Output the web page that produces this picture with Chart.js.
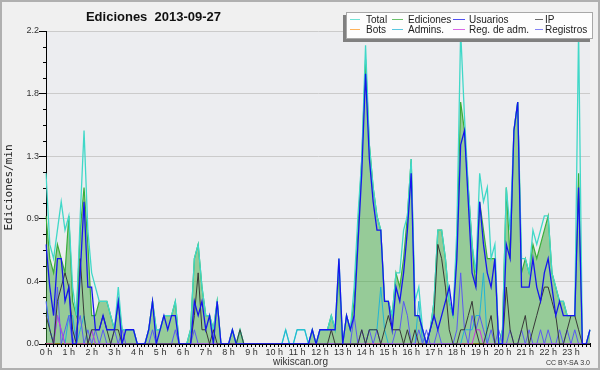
<!DOCTYPE html>
<html>
<head>
<meta charset="utf-8">
<script src="https://cdn.jsdelivr.net/npm/chart.js@4.4.0/dist/chart.umd.min.js"></script>
<style>
html, body { margin: 0; padding: 0; background: #f0f0f0; }
</style>
</head>
<body>
<canvas id="grafico" width="600" height="370"></canvas>
<script>
// hour tick labels, one every 6 slots of 10 minutes
const horas = ['0 h', '1 h', '2 h', '3 h', '4 h', '5 h', '6 h', '7 h', '8 h', '9 h', '10 h', '11 h',
  '12 h', '13 h', '14 h', '15 h', '16 h', '17 h', '18 h', '19 h', '20 h', '21 h', '22 h', '23 h'];

// 10-minute slots
const franjas = [];
horas.forEach((h, i) => {
  for (let m = 0; m < 60; m += 10) franjas.push(i + ':' + String(m).padStart(2, '0'));
});

// edits per minute, one row per hour
const total = [
  1.2, 0.7, 0.6, 0.8, 1.0, 0.8,
  0.9, 0.4, 0.2, 0.9, 1.5, 0.8,
  0.5, 0.4, 0.3, 0.3, 0.3, 0.2,
  0.1, 0.4, 0.1, 0.1, 0.1, 0.1,
  0, 0, 0, 0.1, 0.3, 0.1,
  0.1, 0.2, 0.2, 0.2, 0.3, 0,
  0, 0, 0.1, 0.6, 0.7, 0.4,
  0.2, 0.2, 0.1, 0.3, 0, 0,
  0, 0.1, 0, 0.1, 0, 0,
  0, 0, 0, 0, 0, 0,
  0, 0, 0, 0.1, 0, 0,
  0.1, 0.1, 0.1, 0, 0.1, 0,
  0.1, 0.1, 0.1, 0.2, 0.1, 0.6,
  0, 0.2, 0.1, 0.4, 0.9, 1.3,
  2.1, 1.4, 1.1, 0.9, 0.8, 0.3,
  0.3, 0.2, 0.5, 0.5, 0.8, 0.9,
  1.3, 0.3, 0.4, 0.1, 0, 0.1,
  0.3, 0.8, 0.8, 0.6, 0.3, 0.2,
  0.8, 2.2, 1.6, 1.1, 0.7, 0.5,
  1.2, 1.0, 1.1, 0.6, 0.7, 0,
  0.1, 1.1, 0.8, 1.5, 1.7, 0.6,
  0.6, 0.5, 0.8, 0.7, 0.8, 0.9,
  0.9, 0.5, 0.4, 0.3, 0.3, 0.2,
  0.2, 0.2, 2.2, 0, 0, 0.1
];

const ediciones = [
  0.9, 0.6, 0.5, 0.7, 0.6, 0.5,
  0.9, 0.3, 0.2, 0.8, 1.1, 0.7,
  0.2, 0.2, 0.3, 0.3, 0.3, 0.2,
  0.1, 0.3, 0.1, 0.1, 0.1, 0.1,
  0, 0, 0, 0.1, 0.3, 0.1,
  0.1, 0.2, 0.2, 0.2, 0.3, 0,
  0, 0, 0.1, 0.6, 0.7, 0.4,
  0.2, 0.2, 0.1, 0.3, 0, 0,
  0, 0.1, 0, 0.1, 0, 0,
  0, 0, 0, 0, 0, 0,
  0, 0, 0, 0, 0, 0,
  0, 0, 0, 0, 0.1, 0,
  0.1, 0.1, 0.1, 0.2, 0.1, 0.5,
  0, 0.2, 0.1, 0.3, 0.8, 1.3,
  2.0, 1.4, 1.1, 0.9, 0.8, 0.3,
  0.3, 0.2, 0.5, 0.4, 0.6, 0.9,
  1.3, 0.2, 0.2, 0.1, 0, 0.1,
  0.3, 0.8, 0.8, 0.6, 0.3, 0.2,
  0.7, 1.7, 1.5, 1.1, 0.7, 0.4,
  1.0, 0.8, 0.6, 0.6, 0.6, 0,
  0.1, 1.1, 0.6, 1.5, 1.7, 0.5,
  0.6, 0.5, 0.7, 0.6, 0.7, 0.8,
  0.9, 0.5, 0.4, 0.3, 0.3, 0.2,
  0.2, 0.2, 1.2, 0, 0, 0.1
];

const usuarios = [
  0.7, 0.4, 0.2, 0.6, 0.6, 0.3,
  0.4, 0, 0, 0.5, 1.0, 0.4,
  0.4, 0.1, 0.1, 0.2, 0.1, 0.1,
  0.1, 0.3, 0, 0.1, 0.1, 0.1,
  0, 0, 0, 0.1, 0.3, 0,
  0.1, 0.2, 0.1, 0.2, 0.2, 0,
  0, 0, 0, 0.3, 0.2, 0.3,
  0.1, 0.2, 0, 0.3, 0, 0,
  0, 0.1, 0, 0, 0, 0,
  0, 0, 0, 0, 0, 0,
  0, 0, 0, 0, 0, 0,
  0, 0, 0, 0, 0.1, 0,
  0.1, 0.1, 0.1, 0.1, 0.1, 0.6,
  0, 0.2, 0.1, 0.2, 0.7, 1.2,
  1.9, 1.3, 1.0, 0.8, 0.8, 0.3,
  0.3, 0.1, 0.4, 0.3, 0.5, 0.8,
  1.2, 0.2, 0.2, 0.1, 0, 0.1,
  0.2, 0.1, 0.2, 0.3, 0.4, 0.2,
  0.6, 1.4, 1.5, 1.0, 0.5, 0.4,
  1.0, 0.7, 0.5, 0.4, 0.6, 0,
  0, 0.7, 0.6, 1.5, 1.7, 0.4,
  0.4, 0.4, 0.6, 0.4, 0.3, 0.5,
  0.6, 0.4, 0.2, 0.3, 0.2, 0.2,
  0.2, 0.2, 1.1, 0, 0, 0.1
];

const ip = [
  0.2, 0.1, 0, 0.3, 0.4, 0.5,
  0.4, 0.1, 0, 0.6, 0.2, 0,
  0.1, 0.1, 0.1, 0.2, 0.1, 0,
  0.1, 0.1, 0, 0, 0, 0,
  0, 0, 0, 0, 0, 0,
  0, 0, 0, 0, 0, 0,
  0, 0, 0, 0.2, 0.5, 0.1,
  0.1, 0, 0.1, 0, 0, 0,
  0, 0, 0, 0.1, 0, 0,
  0, 0, 0, 0, 0, 0,
  0, 0, 0, 0, 0, 0,
  0, 0, 0, 0, 0, 0,
  0, 0, 0, 0.1, 0, 0,
  0, 0, 0, 0, 0, 0.1,
  0, 0.1, 0.1, 0.1, 0, 0.1,
  0.2, 0.1, 0.1, 0.1, 0, 0.1,
  0, 0.1, 0, 0, 0, 0.1,
  0.2, 0.7, 0.6, 0.4, 0.1, 0,
  0, 0.1, 0.1, 0.2, 0.3, 0.1,
  0, 0, 0.1, 0.2, 0, 0,
  0, 0.4, 0.1, 0, 0, 0.1,
  0.2, 0, 0.1, 0.2, 0.3, 0.4,
  0.4, 0.3, 0.2, 0, 0, 0.1,
  0.2, 0.2, 0.1, 0, 0, 0
];

const bots = [
  0, 0, 0, 0, 0, 0,  0, 0, 0, 0, 0, 0,  0, 0, 0, 0, 0, 0,  0, 0, 0, 0, 0, 0,
  0, 0, 0, 0, 0, 0,  0, 0, 0, 0, 0, 0,  0, 0, 0, 0, 0, 0,  0, 0, 0, 0, 0, 0,
  0, 0, 0, 0, 0, 0,  0, 0, 0, 0, 0, 0,  0, 0, 0, 0, 0, 0,  0, 0, 0, 0, 0, 0,
  0, 0, 0, 0, 0, 0,  0, 0, 0, 0, 0, 0,  0, 0, 0, 0, 0, 0,  0, 0, 0, 0, 0, 0,
  0, 0, 0, 0, 0, 0,  0, 0, 0, 0, 0, 0,  0, 0, 0, 0, 0, 0,  0, 0, 0, 0, 0, 0,
  0, 0, 0, 0, 0, 0,  0, 0, 0, 0, 0, 0,  0, 0, 0, 0, 0, 0,  0, 0, 0, 0, 0, 0
];

const admins = [
  0.3, 0.1, 0, 0.2, 0.1, 0,
  0.2, 0.2, 0, 0.1, 0.2, 0,
  0.1, 0, 0, 0, 0, 0,
  0, 0, 0, 0, 0, 0,
  0, 0, 0, 0, 0, 0,
  0, 0, 0, 0, 0, 0,
  0, 0, 0, 0, 0, 0,
  0, 0, 0, 0, 0, 0,
  0, 0, 0, 0, 0, 0,
  0, 0, 0, 0, 0, 0,
  0, 0, 0, 0.1, 0, 0,
  0.1, 0.1, 0.1, 0, 0, 0,
  0, 0, 0, 0, 0, 0,
  0, 0, 0, 0, 0, 0,
  0, 0.1, 0.1, 0.1, 0.4, 0.1,
  0, 0, 0, 0, 0, 0,
  0, 0, 0.3, 0, 0, 0,
  0, 0, 0, 0, 0, 0,
  0, 0, 0.1, 0.1, 0.1, 0.2,
  0.2, 0.5, 0, 0, 0, 0,
  0, 0, 0, 0, 0, 0,
  0, 0, 0, 0, 0, 0,
  0, 0, 0, 0, 0, 0,
  0, 0, 0, 0, 0, 0
];

const regAdm = [
  0, 0, 0, 0.2, 0.1, 0,
  0, 0, 0, 0, 0, 0,
  0.1, 0, 0, 0, 0, 0,
  0, 0, 0, 0, 0, 0,
  0, 0, 0, 0, 0, 0,
  0, 0, 0, 0, 0, 0,
  0, 0, 0, 0, 0, 0,
  0, 0, 0, 0, 0, 0,
  0, 0, 0, 0, 0, 0,
  0, 0, 0, 0, 0, 0,
  0, 0, 0, 0, 0, 0,
  0, 0, 0, 0, 0, 0,
  0, 0, 0, 0, 0, 0,
  0, 0, 0, 0, 0, 0,
  0, 0, 0, 0, 0, 0,
  0, 0, 0, 0, 0, 0,
  0, 0, 0, 0, 0, 0,
  0, 0, 0, 0, 0, 0,
  0, 0, 0, 0, 0, 0.1,
  0.1, 0, 0, 0, 0, 0,
  0, 0, 0, 0, 0, 0,
  0, 0, 0, 0, 0, 0,
  0, 0, 0, 0, 0, 0,
  0, 0, 0, 0, 0, 0
];

const registros = [
  0.3, 0.1, 0, 0.4, 0, 0.1,
  0.2, 0, 0.1, 0.2, 0, 0.1,
  0, 0.1, 0, 0.1, 0, 0,
  0.1, 0, 0.1, 0, 0, 0,
  0, 0, 0, 0, 0.1, 0,
  0, 0, 0, 0, 0.1, 0,
  0, 0, 0, 0.1, 0, 0,
  0, 0, 0, 0, 0, 0,
  0, 0, 0, 0, 0, 0,
  0, 0, 0, 0, 0, 0,
  0, 0, 0, 0, 0, 0,
  0, 0, 0, 0, 0, 0,
  0, 0, 0, 0, 0, 0,
  0, 0, 0, 0.2, 0, 0.1,
  0, 0.1, 0, 0.1, 0, 0,
  0, 0, 0.1, 0.1, 0.3, 0.2,
  0, 0, 0.1, 0, 0.1, 0,
  0, 0.1, 0, 0, 0, 0,
  0.1, 0.5, 0.1, 0, 0.2, 0.1,
  0.2, 0.1, 0, 0.1, 0, 0.1,
  0, 0, 0.1, 0, 0, 0.1,
  0, 0.1, 0, 0, 0.1, 0,
  0.1, 0, 0, 0.1, 0, 0.1,
  0, 0.1, 0, 0, 0, 0
];

const ordenLeyenda = ['Total', 'Ediciones', 'Usuarios', 'IP', 'Bots', 'Admins.', 'Reg. de adm.', 'Registros'];

const linea = (label, data, color, ancho) => ({
  label: label,
  data: data,
  borderColor: color,
  borderWidth: ancho,
  pointRadius: 0,
  tension: 0,
  fill: false
});

// first dataset is drawn on top
const datasets = [
  linea('Usuarios', usuarios, '#1515ee', 1.3),
  linea('IP', ip, '#383838', 1),
  linea('Reg. de adm.', regAdm, '#cc33dd', 1),
  linea('Registros', registros, '#5a5af2', 1),
  linea('Admins.', admins, '#22b4d6', 1),
  linea('Bots', bots, '#ff9a22', 1),
  linea('Total', total, '#40d8c8', 1.3),
  {
    label: 'Ediciones',
    data: ediciones,
    borderColor: '#3aae3a',
    backgroundColor: 'rgba(64,170,64,0.5)',
    borderWidth: 1.2,
    pointRadius: 0,
    tension: 0,
    fill: 'origin'
  }
];

const fondo = {
  id: 'fondo',
  beforeDraw(chart) {
    const {ctx, chartArea: a} = chart;
    ctx.save();
    ctx.fillStyle = '#f0f0f0';
    ctx.fillRect(0, 0, chart.width, chart.height);
    ctx.fillStyle = '#ecedf0';
    ctx.fillRect(a.left, a.top, a.right - a.left, a.bottom - a.top);
    ctx.strokeStyle = '#b0b0b0';
    ctx.lineWidth = 2;
    ctx.strokeRect(1, 1, chart.width - 2, chart.height - 2);
    ctx.restore();
  }
};

// minor ticks on the y axis
const marcas = {
  id: 'marcas',
  afterDraw(chart) {
    const {ctx, chartArea: a} = chart;
    const y = chart.scales.y;
    ctx.save();
    ctx.strokeStyle = '#000';
    ctx.lineWidth = 1;
    for (let k = 1; k < 20; k++) {
      if (k % 4 === 0) continue;
      const py = Math.round(y.getPixelForValue(k * 0.11)) + 0.5;
      ctx.beginPath();
      ctx.moveTo(a.left - 3, py);
      ctx.lineTo(a.left, py);
      ctx.stroke();
    }
    ctx.restore();
  }
};

const textos = {
  id: 'textos',
  afterDraw(chart) {
    const ctx = chart.ctx;
    ctx.save();
    // title
    ctx.fillStyle = '#111';
    ctx.font = 'bold 13px "Liberation Sans", Arial, sans-serif';
    ctx.textAlign = 'center';
    ctx.textBaseline = 'alphabetic';
    ctx.fillText('Ediciones  2013-09-27', 153.5, 21);
    // footer
    ctx.fillStyle = '#333';
    ctx.font = '10px "Liberation Sans", Arial, sans-serif';
    ctx.fillText('wikiscan.org', 300.5, 365);
    ctx.font = '7px "Liberation Sans", Arial, sans-serif';
    ctx.textAlign = 'right';
    ctx.fillText('CC BY-SA 3.0', 590, 365);

    // legend box with shadow
    ctx.fillStyle = '#808080';
    ctx.fillRect(343, 15, 247, 27);
    ctx.fillStyle = '#fdfdfd';
    ctx.fillRect(346, 12, 247, 27);
    ctx.strokeStyle = '#a8a8a8';
    ctx.lineWidth = 1;
    ctx.strokeRect(346.5, 12.5, 246, 26);
    // per column: sample start, sample end, text start
    const cols = [[350, 360, 366], [392, 403, 408], [453, 465, 469], [535, 543, 545]];
    ctx.font = '10px "Liberation Sans", Arial, sans-serif';
    ctx.textAlign = 'left';
    ctx.textBaseline = 'middle';
    ordenLeyenda.forEach((nombre, i) => {
      const ds = chart.data.datasets.find(d => d.label === nombre);
      const c = cols[i % 4];
      const yy = 19.5 + Math.floor(i / 4) * 10;
      ctx.globalAlpha = 0.75;
      ctx.strokeStyle = ds.borderColor;
      ctx.beginPath();
      ctx.moveTo(c[0], yy);
      ctx.lineTo(c[1], yy);
      ctx.stroke();
      ctx.globalAlpha = 1;
      ctx.fillStyle = '#222';
      ctx.fillText(nombre, c[2], yy + 0.5);
    });
    ctx.restore();
  }
};

new Chart(document.getElementById('grafico'), {
  type: 'line',
  data: { labels: franjas, datasets: datasets },
  options: {
    responsive: false,
    animation: false,
    layout: { padding: { left: 0, top: 31, right: 10, bottom: 0 } },
    plugins: {
      legend: { display: false },
      tooltip: { enabled: false },
      title: { display: false }
    },
    scales: {
      x: {
        type: 'category',
        z: 1,
        afterFit: (s) => { s.height = 26; },
        border: { display: true, color: '#000', width: 2 },
        grid: { display: true, drawOnChartArea: false, drawTicks: true, tickLength: 3, tickColor: '#000' },
        ticks: {
          autoSkip: false,
          maxRotation: 0,
          minRotation: 0,
          padding: 0,
          color: '#333',
          font: { family: '"Liberation Sans", Arial, sans-serif', size: 9 },
          callback: (v, i) => (i % 6 === 0 ? horas[i / 6] : '')
        }
      },
      y: {
        min: 0,
        max: 2.2,
        afterFit: (s) => { s.width = 46; },
        border: { display: true, color: '#000', width: 1 },
        grid: { color: '#cbcbcb', tickColor: '#000', tickLength: 7, lineWidth: 1 },
        title: {
          display: true,
          text: 'Ediciones/min',
          color: '#222',
          padding: { top: 3, bottom: 3 },
          font: { family: '"DejaVu Sans Mono", monospace', size: 11 }
        },
        ticks: {
          stepSize: 0.44,
          padding: 0,
          color: '#333',
          font: { family: '"Liberation Sans", Arial, sans-serif', size: 9 },
          callback: (v) => v.toFixed(1)
        }
      }
    }
  },
  plugins: [fondo, marcas, textos]
});
</script>
</body>
</html>
